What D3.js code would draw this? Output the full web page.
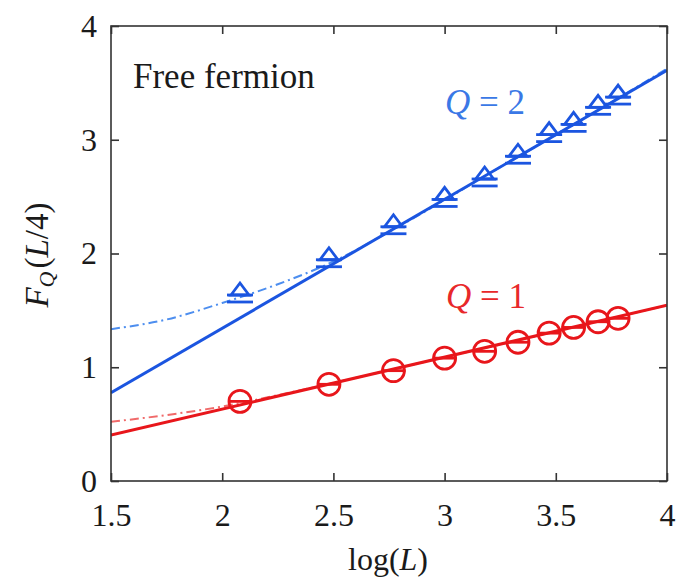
<!DOCTYPE html>
<html>
<head>
<meta charset="utf-8">
<script src="https://cdn.jsdelivr.net/npm/d3@7"></script>
<style>
  svg text, svg tspan { font-family: "Liberation Serif", serif !important; }
</style>
</head>
<body style="margin:0;background:#fff">
<svg id="chart" width="677" height="579">
</svg>
<script>
// log(L) sample positions
const logL = [2.08, 2.48, 2.77, 3.00, 3.18, 3.33, 3.47, 3.58, 3.69, 3.78];
// F_Q(L/4) values
const fQ1 = [0.70, 0.85, 0.97, 1.08, 1.14, 1.22, 1.30, 1.35, 1.40, 1.43];
const fQ2 = [1.60, 1.91, 2.20, 2.44, 2.62, 2.82, 3.01, 3.10, 3.25, 3.34];

// linear fits (endpoints at log L = 1.5 and 4)
const fitX = [1.5, 4.0];
const fitQ1 = [0.404, 1.545];
const fitQ2 = [0.776, 3.61];

// fits including subleading corrections
const corrX  = [1.5, 1.75, 2.0, 2.25, 2.5, 2.75, 3.0, 3.25, 3.5, 3.75, 4.0];
const corrQ1 = [0.52, 0.58, 0.655, 0.755, 0.862, 0.975, 1.088, 1.20, 1.315, 1.43, 1.545];
const corrQ2 = [1.335, 1.42, 1.565, 1.73, 1.93, 2.19, 2.47, 2.76, 3.04, 3.33, 3.625];

const xTicks = [1.5, 2, 2.5, 3, 3.5, 4];
const yTicks = [0, 1, 2, 3, 4];

const blue = "#1b55e0", blueLight = "#4d8eef", blueText = "#3a78e6";
const red = "#e8161b", redLight = "#f06a6a", redText = "#e8282a";
const FONT = "Liberation Serif";

const svg = d3.select("#chart");
const m = { left: 111, right: 667, top: 26, bottom: 481 };

const x = d3.scaleLinear().domain([1.5, 4]).range([m.left, m.right]);
const y = d3.scaleLinear().domain([0, 4]).range([m.bottom, m.top]);

const plot = svg.append("g");

// clip to frame
svg.append("defs").append("clipPath").attr("id", "clip")
  .append("rect").attr("x", m.left).attr("y", m.top)
  .attr("width", m.right - m.left).attr("height", m.bottom - m.top);

const line = d3.line().x(d => x(d[0])).y(d => y(d[1]));
const curve = d3.line().x(d => x(d[0])).y(d => y(d[1])).curve(d3.curveMonotoneX);

const g = plot.append("g").attr("clip-path", "url(#clip)");

// dash-dot corrected fits
g.append("path").datum(d3.zip(corrX, corrQ2)).attr("d", curve)
  .attr("fill", "none").attr("stroke", blueLight).attr("stroke-width", 2)
  .attr("stroke-dasharray", "9,4,2,4");
g.append("path").datum(d3.zip(corrX, corrQ1)).attr("d", curve)
  .attr("fill", "none").attr("stroke", redLight).attr("stroke-width", 2)
  .attr("stroke-dasharray", "9,4,2,4");

// straight fits
g.append("path").datum(d3.zip(fitX, fitQ2)).attr("d", line)
  .attr("fill", "none").attr("stroke", blue).attr("stroke-width", 3);
g.append("path").datum(d3.zip(fitX, fitQ1)).attr("d", line)
  .attr("fill", "none").attr("stroke", red).attr("stroke-width", 3);

// Q = 2 markers: triangle with error-bar caps
const q2 = plot.append("g").selectAll("g").data(d3.zip(logL, fQ2)).join("g")
  .attr("transform", d => `translate(${x(d[0])},${y(d[1])})`);
q2.append("path").attr("d", "M-9,-4 L0,-16 L9,-4 Z")
  .attr("fill", "none").attr("stroke", blue).attr("stroke-width", 2.8)
  .attr("stroke-linejoin", "miter");
q2.append("line").attr("x1", -13).attr("x2", 13).attr("y1", -4).attr("y2", -4)
  .attr("stroke", blue).attr("stroke-width", 2.8);
q2.append("line").attr("x1", -13).attr("x2", 13).attr("y1", 3).attr("y2", 3)
  .attr("stroke", blue).attr("stroke-width", 2.8);

// Q = 1 markers: open circles with error-bar caps
const q1 = plot.append("g").selectAll("g").data(d3.zip(logL, fQ1)).join("g")
  .attr("transform", d => `translate(${x(d[0])},${y(d[1])})`);
q1.append("circle").attr("r", 11)
  .attr("fill", "none").attr("stroke", red).attr("stroke-width", 2.8);
q1.append("line").attr("x1", -12).attr("x2", 12).attr("y1", 0).attr("y2", 0)
  .attr("stroke", red).attr("stroke-width", 2.8);

// frame
plot.append("rect").attr("x", m.left).attr("y", m.top)
  .attr("width", m.right - m.left).attr("height", m.bottom - m.top)
  .attr("fill", "none").attr("stroke", "#333").attr("stroke-width", 1.6);

// axes with inward ticks
const axB = d3.axisBottom(x).tickValues(xTicks).tickSize(-8).tickPadding(22)
  .tickFormat(d3.format("~g"));
const axL = d3.axisLeft(y).tickValues(yTicks).tickSize(-8).tickPadding(14)
  .tickFormat(d3.format("~g"));
const axT = d3.axisTop(x).tickValues(xTicks).tickSize(-8).tickFormat("");
const axR = d3.axisRight(y).tickValues(yTicks).tickSize(-8).tickFormat("");

function style(sel) {
  sel.attr("font-family", FONT).attr("font-size", 32);
  sel.select(".domain").remove();
  sel.selectAll(".tick line").attr("stroke", "#333").attr("stroke-width", 1.6);
  sel.selectAll(".tick text").attr("fill", "#1a1a1a").attr("font-size", 32)
    .attr("font-family", FONT);
}
svg.append("g").attr("transform", `translate(0,${m.bottom})`).call(axB).call(style);
svg.append("g").attr("transform", `translate(${m.left},0)`).call(axL).call(style);
svg.append("g").attr("transform", `translate(0,${m.top})`).call(axT).call(style);
svg.append("g").attr("transform", `translate(${m.right},0)`).call(axR).call(style);

// axis titles
const xt = svg.append("text").attr("x", 388).attr("y", 570)
  .attr("text-anchor", "middle").attr("font-size", 32).attr("fill", "#1a1a1a")
  .attr("font-family", FONT);
xt.append("tspan").text("log(");
xt.append("tspan").attr("font-style", "italic").text("L");
xt.append("tspan").text(")");

const yt = svg.append("text").attr("transform", "translate(48,255) rotate(-90)")
  .attr("text-anchor", "middle").attr("font-size", 33).attr("fill", "#1a1a1a")
  .attr("font-family", FONT);
yt.append("tspan").attr("font-style", "italic").text("F");
yt.append("tspan").attr("font-style", "italic").attr("font-size", 22).attr("dy", 6).text("Q");
yt.append("tspan").attr("dy", -6).attr("dx", 3).text("(");
yt.append("tspan").attr("font-style", "italic").text("L");
yt.append("tspan").text("/4)");

// annotations
svg.append("text").attr("x", 133).attr("y", 88).attr("font-size", 35)
  .attr("fill", "#1a1a1a").attr("font-family", FONT).text("Free fermion");

function qLabel(px, py, val, col) {
  const t = svg.append("text").attr("x", px).attr("y", py).attr("font-size", 35)
    .attr("fill", col).attr("font-family", FONT);
  t.append("tspan").attr("font-style", "italic").text("Q");
  t.append("tspan").text(" = " + val);
}
qLabel(445, 114, 2, blueText);
qLabel(446, 308, 1, redText);
</script>
</body>
</html>
